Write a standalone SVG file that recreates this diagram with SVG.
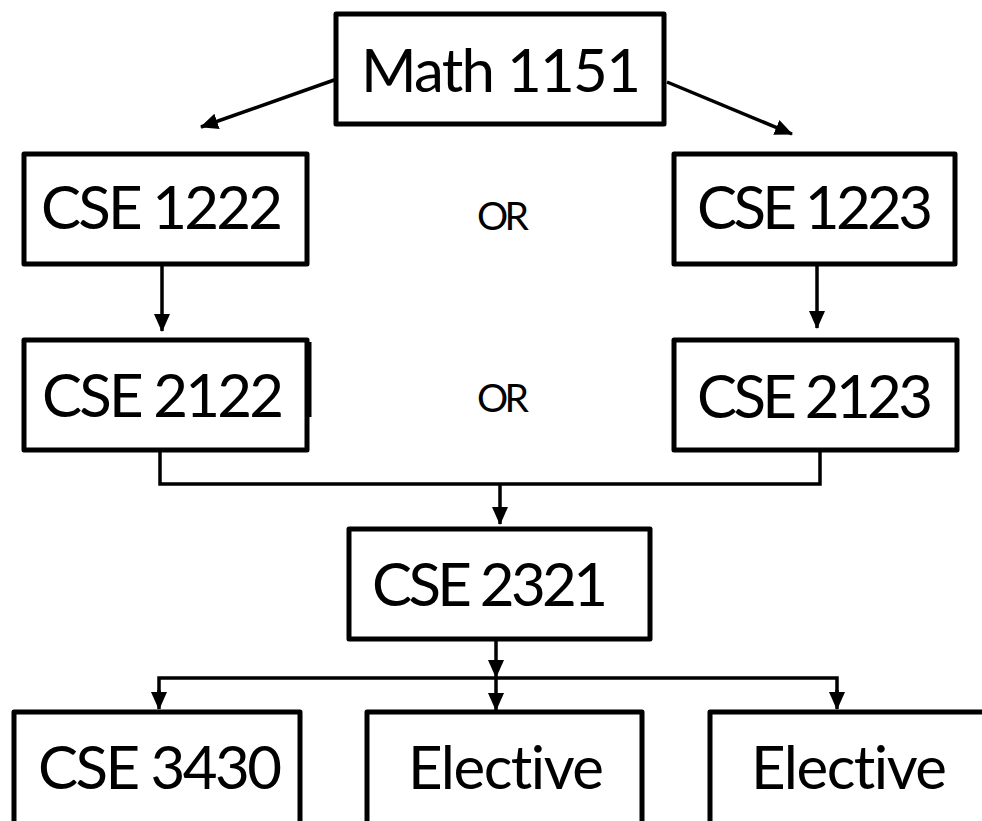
<svg xmlns="http://www.w3.org/2000/svg" width="982" height="821" viewBox="0 0 982 821">
<style>
.box{fill:#fff;stroke:#000;stroke-width:5;stroke-linejoin:round}
.lbl{font-family:"Lato","Open Sans","Liberation Sans",sans-serif;font-size:60px;fill:#000;text-anchor:middle;font-variant-ligatures:none}
.or{font-family:"Lato","Open Sans","Liberation Sans",sans-serif;font-size:39px;fill:#000;text-anchor:middle}
.con{fill:none;stroke:#000;stroke-width:3.5}
</style>
<defs>
<marker id="ah" markerUnits="userSpaceOnUse" markerWidth="18" markerHeight="16" refX="17" refY="8" orient="auto">
<path d="M0,0 L18,8 L0,16 Z" fill="#000"/>
</marker>
</defs>
<g id="connectors">
<line class="con" x1="337" y1="79" x2="201" y2="127" marker-end="url(#ah)"/>
<line class="con" x1="667" y1="82" x2="792" y2="134" marker-end="url(#ah)"/>
<line class="con" x1="162" y1="264" x2="162" y2="331" marker-end="url(#ah)"/>
<line class="con" x1="817" y1="264" x2="817" y2="328" marker-end="url(#ah)"/>
<path class="con" d="M160,452 V484 H820 V452"/>
<line class="con" x1="500" y1="484" x2="500" y2="524" marker-end="url(#ah)"/>
<line class="con" x1="496" y1="639" x2="496" y2="677" marker-end="url(#ah)"/>
<path class="con" d="M159,700 V678 H837 V700"/>
<line class="con" x1="159" y1="690" x2="159" y2="709" marker-end="url(#ah)"/>
<line class="con" x1="496" y1="678" x2="496" y2="710" marker-end="url(#ah)"/>
<line class="con" x1="837" y1="690" x2="837" y2="709" marker-end="url(#ah)"/>
</g>
<g id="math1151">
<rect class="box" x="336" y="14" width="328" height="110"/>
<text class="lbl" x="501" y="92" textLength="280">Math 1151</text>
</g>
<g id="cse1222">
<rect class="box" x="24" y="154" width="283" height="110"/>
<text class="lbl" x="162" y="229" textLength="242">CSE 1222</text>
</g>
<g id="or1"><text class="or" x="503" y="230" textLength="52">OR</text></g>
<g id="cse1223">
<rect class="box" x="674" y="154" width="281" height="110"/>
<text class="lbl" x="815" y="229" textLength="236">CSE 1223</text>
</g>
<g id="cse2122">
<rect class="box" x="24" y="340" width="283" height="110"/>
<line x1="309.5" y1="342" x2="309.5" y2="417" stroke="#000" stroke-width="4"/>
<text class="lbl" x="163" y="417" textLength="242">CSE 2122</text>
</g>
<g id="or2"><text class="or" x="503" y="412" textLength="52">OR</text></g>
<g id="cse2123">
<rect class="box" x="674" y="340" width="283" height="110"/>
<text class="lbl" x="815" y="418" textLength="236">CSE 2123</text>
</g>
<g id="cse2321">
<rect class="box" x="349" y="529" width="301" height="110"/>
<text class="lbl" x="490" y="606" textLength="236">CSE 2321</text>
</g>
<g id="cse3430">
<rect class="box" x="14" y="712" width="286" height="130"/>
<text class="lbl" x="160" y="789" textLength="244">CSE 3430</text>
</g>
<g id="elective1">
<rect class="box" x="367" y="712" width="275" height="130"/>
<text class="lbl" x="506" y="789" textLength="196">Elective</text>
</g>
<g id="elective2">
<rect class="box" x="710" y="712" width="300" height="130"/>
<text class="lbl" x="849" y="789" textLength="196">Elective</text>
</g>
</svg>
